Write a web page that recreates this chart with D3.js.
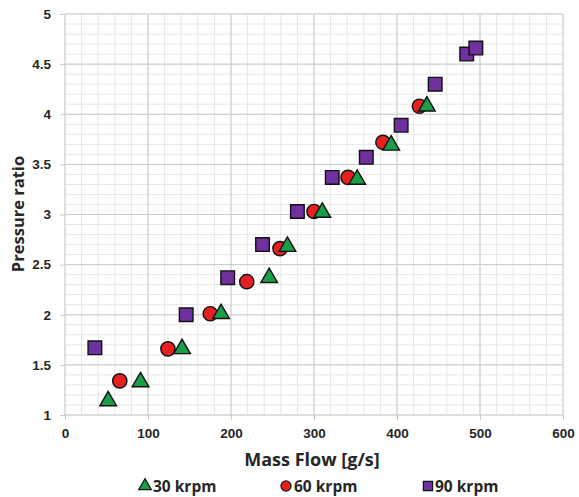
<!DOCTYPE html>
<html>
<head>
<meta charset="utf-8">
<script src="https://cdn.jsdelivr.net/npm/d3@7"></script>
<style>
  body { margin: 0; background: #fff; }
  svg { display: block; font-family: "Open Sans", sans-serif; }
</style>
</head>
<body>
<svg id="chart" width="579" height="497"></svg>
<script>
// data
const series30 = [[52,1.14],[91,1.33],[141,1.66],[188,2.01],[246,2.37],[268,2.68],[310,3.02],[352,3.35],[393,3.69],[436,4.08]];
const series60 = [[66,1.34],[124,1.66],[175,2.01],[219,2.33],[259,2.66],[300,3.03],[341,3.37],[383,3.72],[427,4.08]];
const series90 = [[36,1.67],[146,2.0],[196,2.37],[238,2.70],[280,3.03],[322,3.37],[363,3.57],[405,3.89],[446,4.30],[484,4.60],[495,4.66]];
const seriesNames = ["30 krpm", "60 krpm", "90 krpm"];
const xTicks = [0, 100, 200, 300, 400, 500, 600];
const yTicks = [1, 1.5, 2, 2.5, 3, 3.5, 4, 4.5, 5];

const margin = { top: 14, left: 65 };
const w = 498, h = 401;

const svg = d3.select("#chart");
const g = svg.append("g").attr("transform", `translate(${margin.left},${margin.top})`);

const x = d3.scaleLinear().domain([0, 600]).range([0, w]);
const y = d3.scaleLinear().domain([1, 5]).range([h, 0]);

// minor grid
g.append("g").selectAll("line").data(x.ticks(30)).join("line")
  .attr("x1", d => x(d)).attr("x2", d => x(d)).attr("y1", 0).attr("y2", h)
  .attr("stroke", "#e6e6e6").attr("stroke-width", 1);
g.append("g").selectAll("line").data(y.ticks(40)).join("line")
  .attr("y1", d => y(d)).attr("y2", d => y(d)).attr("x1", 0).attr("x2", w)
  .attr("stroke", "#e6e6e6").attr("stroke-width", 1);

// major grid
g.append("g").selectAll("line").data(xTicks).join("line")
  .attr("x1", d => x(d)).attr("x2", d => x(d)).attr("y1", 0).attr("y2", h)
  .attr("stroke", "#cbcbcb").attr("stroke-width", 1);
g.append("g").selectAll("line").data(yTicks).join("line")
  .attr("y1", d => y(d)).attr("y2", d => y(d)).attr("x1", 0).attr("x2", w)
  .attr("stroke", "#cbcbcb").attr("stroke-width", 1);

// axes
const xAxis = d3.axisBottom(x).tickValues(xTicks).tickSize(5).tickPadding(8);
const yAxis = d3.axisLeft(y).tickValues(yTicks).tickSize(5).tickPadding(9).tickFormat(d3.format("~g"));

const gx = g.append("g").attr("transform", `translate(0,${h})`).call(xAxis);
const gy = g.append("g").call(yAxis);
[gx, gy].forEach(a => {
  a.select(".domain").remove();
  a.selectAll(".tick line").attr("stroke", "#cbcbcb");
  a.selectAll(".tick text")
    .attr("fill", "#262626")
    .style("font-size", "13.5px")
    .style("font-weight", "bold");
});

// axis titles
svg.append("text")
  .attr("x", 312).attr("y", 466)
  .attr("text-anchor", "middle")
  .style("font-size", "18px").style("font-weight", "bold").attr("fill", "#262626")
  .text("Mass Flow [g/s]");
svg.append("text")
  .attr("transform", "translate(24,214) rotate(-90)")
  .attr("text-anchor", "middle")
  .style("font-size", "16.5px").style("font-weight", "bold").attr("fill", "#262626")
  .text("Pressure ratio");

const colors = ["#1a9e48", "#e62020", "#7030a0"];
const tri = d3.symbol().type(d3.symbolTriangle);
const circ = d3.symbol().type(d3.symbolCircle);
const sq = d3.symbol().type(d3.symbolSquare);

function drawSeries(data, gen, size, color) {
  g.append("g").selectAll("path").data(data).join("path")
    .attr("transform", d => `translate(${x(d[0])},${y(d[1])})`)
    .attr("d", gen.size(size)())
    .attr("fill", color).attr("stroke", "#111").attr("stroke-width", 1.4);
}
drawSeries(series90, sq, 185, colors[2]);
drawSeries(series60, circ, 160, colors[1]);
drawSeries(series30, tri, 120, colors[0]);

// legend
const legend = svg.append("g");
const legendItems = [
  { name: seriesNames[0], gen: d3.symbol().type(d3.symbolTriangle).size(70), color: colors[0], mx: 145, tx: 153 },
  { name: seriesNames[1], gen: d3.symbol().type(d3.symbolCircle).size(80), color: colors[1], mx: 286, tx: 294 },
  { name: seriesNames[2], gen: d3.symbol().type(d3.symbolSquare).size(85), color: colors[2], mx: 428, tx: 435 }
];
legendItems.forEach(it => {
  legend.append("path")
    .attr("transform", `translate(${it.mx},486)`)
    .attr("d", it.gen())
    .attr("fill", it.color).attr("stroke", "#111").attr("stroke-width", 1.2);
  legend.append("text")
    .attr("x", it.tx).attr("y", 491.5)
    .style("font-size", "15.5px").style("font-weight", "bold").attr("fill", "#262626")
    .text(it.name);
});
</script>
</body>
</html>
